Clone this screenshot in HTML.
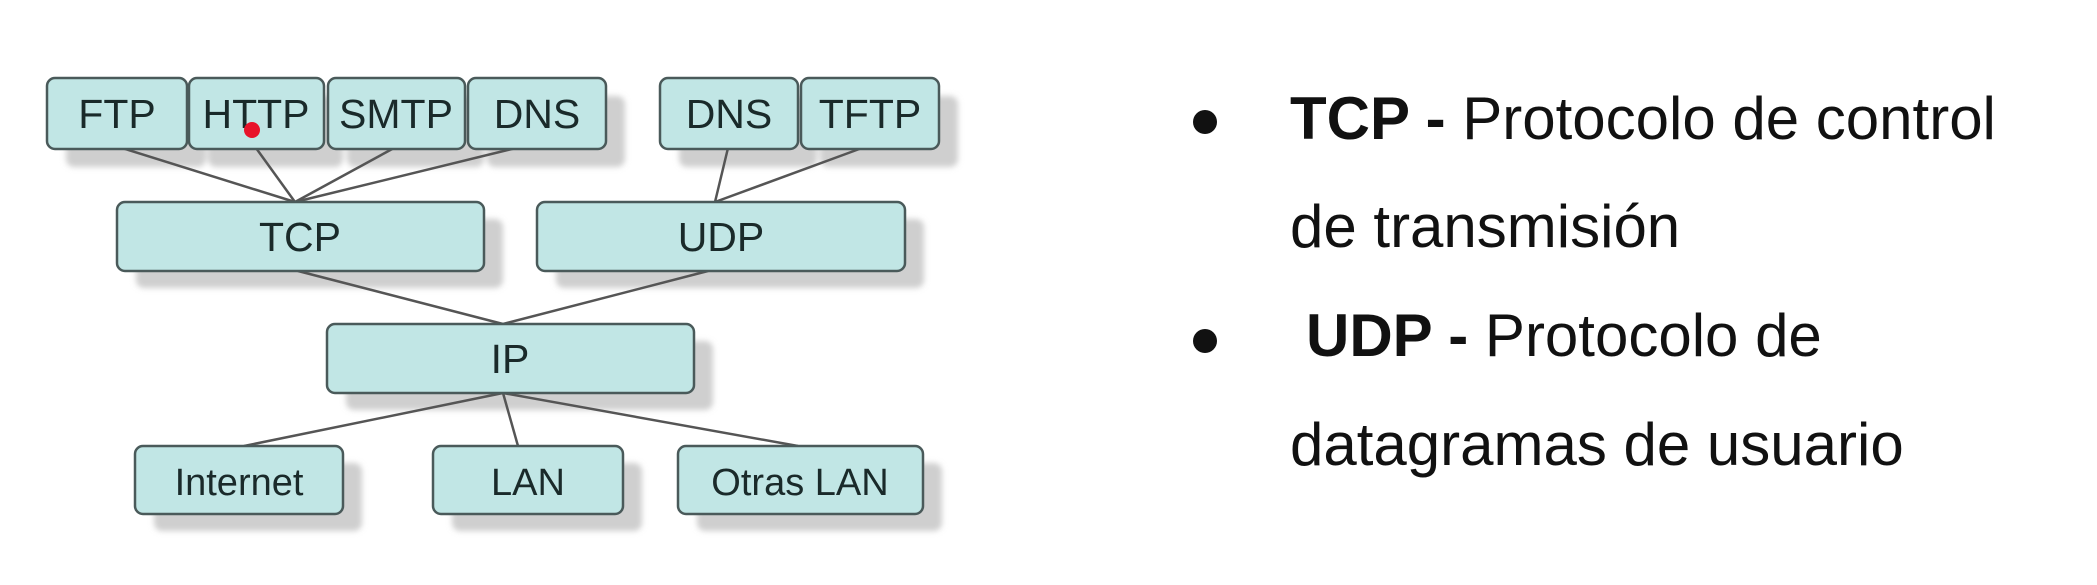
<!DOCTYPE html>
<html><head><meta charset="utf-8"><style>
html,body{margin:0;padding:0;background:#fff;}
svg{display:block;}
.b{fill:#c1e6e5;stroke:#4a5a5a;stroke-width:2.5;}
.s{fill:#cfcfcf;}
.t{font-family:"Liberation Sans",Arial,sans-serif;font-size:41px;fill:#1a2a2a;text-anchor:middle;}
.l{stroke:#555;stroke-width:2.5;}
.r{font-family:"Liberation Sans",Arial,sans-serif;font-size:60px;fill:#111;}
</style></head><body>
<svg width="2097" height="585" viewBox="0 0 2097 585" xmlns="http://www.w3.org/2000/svg">
<defs><filter id="bl"><feGaussianBlur stdDeviation="3"/></filter></defs>
<g filter="url(#bl)">
<rect class="s" x="66" y="96" width="140" height="71" rx="8"/>
<rect class="s" x="208" y="96" width="135" height="71" rx="8"/>
<rect class="s" x="347" y="96" width="137" height="71" rx="8"/>
<rect class="s" x="487" y="96" width="138" height="71" rx="8"/>
<rect class="s" x="679" y="96" width="138" height="71" rx="8"/>
<rect class="s" x="820" y="96" width="138" height="71" rx="8"/>
<rect class="s" x="136" y="219" width="367" height="69" rx="8"/>
<rect class="s" x="556" y="219" width="368" height="69" rx="8"/>
<rect class="s" x="346" y="341" width="367" height="69" rx="8"/>
<rect class="s" x="154" y="463" width="208" height="68" rx="8"/>
<rect class="s" x="452" y="463" width="190" height="68" rx="8"/>
<rect class="s" x="697" y="463" width="245" height="68" rx="8"/>
</g>
<line class="l" x1="122" y1="148" x2="295" y2="202"/>
<line class="l" x1="256" y1="148" x2="295" y2="202"/>
<line class="l" x1="394" y1="148" x2="295" y2="202"/>
<line class="l" x1="516" y1="148" x2="295" y2="202"/>
<line class="l" x1="728" y1="148" x2="715" y2="202"/>
<line class="l" x1="862" y1="148" x2="715" y2="202"/>
<line class="l" x1="298" y1="271" x2="503" y2="324"/>
<line class="l" x1="708" y1="271" x2="503" y2="324"/>
<line class="l" x1="503" y1="393" x2="244" y2="446"/>
<line class="l" x1="503" y1="393" x2="518" y2="446"/>
<line class="l" x1="503" y1="393" x2="798" y2="446"/>
<rect class="b" x="47" y="78" width="140" height="71" rx="8"/>
<rect class="b" x="189" y="78" width="135" height="71" rx="8"/>
<rect class="b" x="328" y="78" width="137" height="71" rx="8"/>
<rect class="b" x="468" y="78" width="138" height="71" rx="8"/>
<rect class="b" x="660" y="78" width="138" height="71" rx="8"/>
<rect class="b" x="801" y="78" width="138" height="71" rx="8"/>
<rect class="b" x="117" y="202" width="367" height="69" rx="8"/>
<rect class="b" x="537" y="202" width="368" height="69" rx="8"/>
<rect class="b" x="327" y="324" width="367" height="69" rx="8"/>
<rect class="b" x="135" y="446" width="208" height="68" rx="8"/>
<rect class="b" x="433" y="446" width="190" height="68" rx="8"/>
<rect class="b" x="678" y="446" width="245" height="68" rx="8"/>
<text class="t" x="117" y="128">FTP</text>
<text class="t" x="256" y="128">HTTP</text>
<text class="t" x="396" y="128">SMTP</text>
<text class="t" x="537" y="128">DNS</text>
<text class="t" x="729" y="128">DNS</text>
<text class="t" x="870" y="128">TFTP</text>
<text class="t" x="300" y="251">TCP</text>
<text class="t" x="721" y="251">UDP</text>
<text class="t" x="510" y="373">IP</text>
<text class="t" x="239" y="495" style="font-size:38px">Internet</text>
<text class="t" x="528" y="495" style="font-size:38px">LAN</text>
<text class="t" x="800" y="495" style="font-size:38px">Otras LAN</text>
<circle cx="252" cy="130" r="8" fill="#e8132a"/>
<circle cx="1205" cy="122" r="12" fill="#111"/>
<circle cx="1205" cy="341" r="12" fill="#111"/>
<text class="r" x="1290" y="139"><tspan font-weight="bold">TCP -</tspan> Protocolo de control</text>
<text class="r" x="1290" y="247">de transmisión</text>
<text class="r" x="1306" y="356"><tspan font-weight="bold">UDP -</tspan> Protocolo de</text>
<text class="r" x="1290" y="465">datagramas de usuario</text>
</svg>
</body></html>
